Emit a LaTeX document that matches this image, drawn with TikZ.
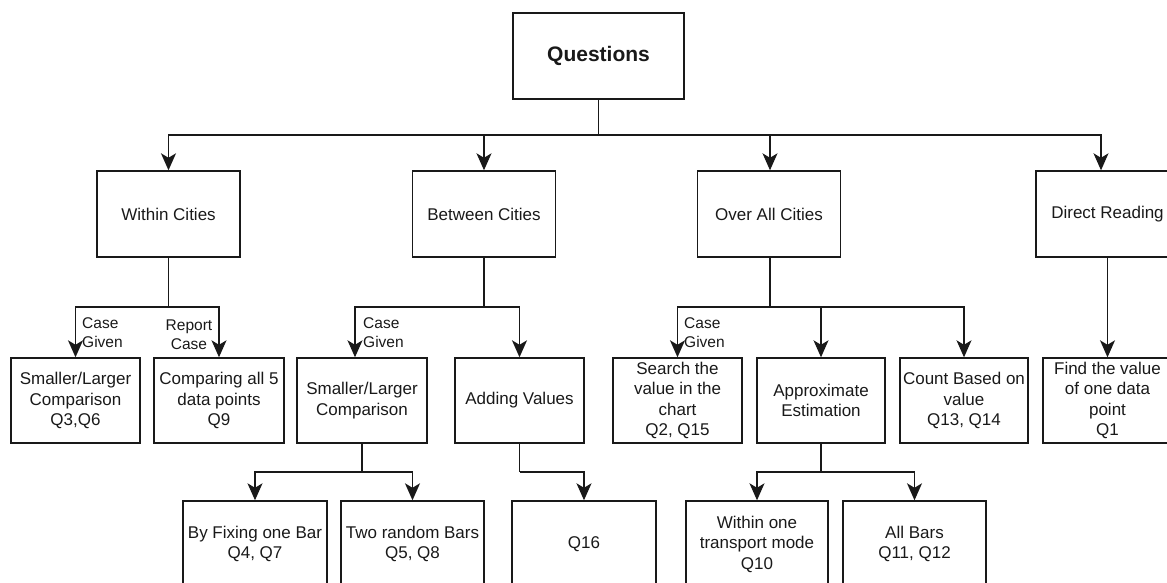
\documentclass[tikz,border=0pt]{standalone}
\usepackage{fontspec}
\setmainfont{Liberation Sans}
\usetikzlibrary{arrows.meta}
\tikzset{
 bx/.style={draw=black!90, line width=1.4pt, inner sep=0pt, align=center, text=black!90, font=\fontsize{17}{20.5}\selectfont},
 lvA/.style={bx, minimum width=143pt, minimum height=86pt},
 lvB/.style={bx, minimum width=129pt, minimum height=85pt},
 lvC/.style={bx, minimum width=143pt, minimum height=86pt},
 ln/.style={line width=1.4pt, draw=black!90},
 arr/.style={ln, -{Stealth[length=17pt,width=15pt,inset=4.5pt]}},
 lbl/.style={font=\fontsize{15.5}{19}\selectfont, text=black!90, inner sep=0pt}
}
\begin{document}
\begin{tikzpicture}[x=1pt,y=-1pt]
\useasboundingbox (0,0) rectangle (1167,583);
\clip (0,0) rectangle (1167,583);
% root
\node[bx, minimum width=171pt, minimum height=86pt, font=\bfseries\fontsize{21}{25}\selectfont] (Q) at (598.5,56) {Questions};
% level 1
\node[lvA] (within) at (168.5,214) {Within Cities};
\node[lvA] (between) at (484,214) {Between Cities};
\node[lvA] (overall) at (769,214) {Over All Cities};
\node[lvA] (direct) at (1107.5,214) {Direct Reading};
% level 2
\node[lvB] (sl1) at (75.5,400.5) {Smaller/Larger\\Comparison\\Q3,Q6};
\node[lvB, minimum width=130pt] (cmp) at (219,400.5) {Comparing all 5\\data points\\Q9};
\node[lvB, minimum width=130pt] (sl2) at (362,400.5) {Smaller/Larger\\Comparison};
\node[lvB] (add) at (519.5,400.5) {Adding Values};
\node[lvB] (search) at (677.5,400.5) {Search the\\value in the\\chart\\Q2, Q15};
\node[lvB, minimum width=128pt] (approx) at (821,400.5) {Approximate\\Estimation};
\node[lvB, minimum width=128pt] (count) at (964,400.5) {Count Based on\\value\\Q13, Q14};
\node[lvB] (find) at (1107.5,400.5) {Find the value\\of one data\\point\\Q1};
% level 3
\node[lvC, minimum width=144pt] (fix) at (255,544) {By Fixing one Bar\\Q4, Q7};
\node[lvC] (two) at (412.5,544) {Two random Bars\\Q5, Q8};
\node[lvC, minimum width=144pt] (q16) at (584,544) {Q16};
\node[lvC, minimum width=142pt] (win1) at (757,544) {Within one\\transport mode\\Q10};
\node[lvC] (allbars) at (914.5,544) {All Bars\\Q11, Q12};
% junctions
\coordinate (j0) at (598.5,135);
\coordinate (j1) at (168.5,307);
\coordinate (j2) at (484,307);
\coordinate (j3) at (770,307);
\coordinate (j4) at (362,472);
\coordinate (j5) at (519.5,472);
\coordinate (j6) at (821,472);
% connectors
\draw[ln] (Q.south) -- (j0);
\draw[arr] (j0) -| (within.north);
\draw[arr] (j0) -| (between.north);
\draw[arr] (j0) -| ([xshift=1pt]overall.north);
\draw[arr] (j0) -| ([xshift=-6.5pt]direct.north);
\draw[ln] (within.south) -- (j1);
\draw[arr] (j1) -| (sl1.north);
\draw[arr] (j1) -| (cmp.north);
\draw[ln] (between.south) -- (j2);
\draw[arr] (j2) -| ([xshift=-7pt]sl2.north);
\draw[arr] (j2) -| (add.north);
\draw[ln] ([xshift=1pt]overall.south) -- (j3);
\draw[arr] (j3) -| (search.north);
\draw[arr] (j3) -| (approx.north);
\draw[arr] (j3) -| (count.north);
\draw[arr] (direct.south) -- (find.north);
\draw[ln] (sl2.south) -- (j4);
\draw[arr] (j4) -| (fix.north);
\draw[arr] (j4) -| (two.north);
\draw[ln] (add.south) -- (j5);
\draw[arr] (j5) -| (q16.north);
\draw[ln] (approx.south) -- (j6);
\draw[arr] (j6) -| (win1.north);
\draw[arr] (j6) -| (allbars.north);
% labels
\node[lbl, anchor=west, align=left] (l1) at (82,333) {Case\\Given};
\node[lbl, align=center] (l2) at (189,335) {Report\\Case};
\node[lbl, anchor=west, align=left] (l3) at (363,333) {Case\\Given};
\node[lbl, anchor=west, align=left] (l4) at (684,333) {Case\\Given};
\end{tikzpicture}
\end{document}
